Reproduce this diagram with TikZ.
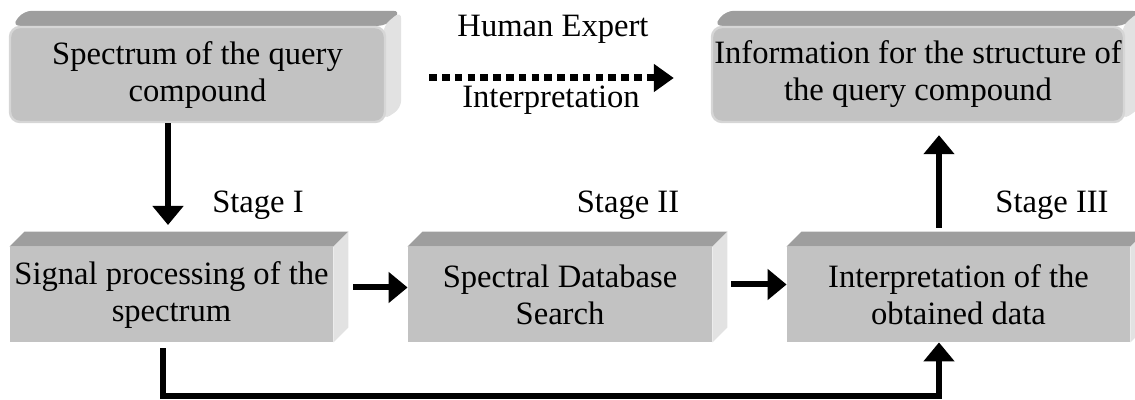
\documentclass[tikz,border=0pt]{standalone}
\usepackage{fontspec}
\setmainfont{Liberation Serif}
\usetikzlibrary{arrows.meta,backgrounds,calc}
\definecolor{frontc}{RGB}{194,194,194}
\definecolor{topc}{RGB}{158,158,158}
\definecolor{sidec}{RGB}{226,226,226}
\definecolor{rimc}{RGB}{214,214,214}
\begin{document}
\begin{tikzpicture}[x=0.5pt,y=-0.5pt,
  every node/.style={font=\fontsize{16.3}{18.5}\selectfont, inner sep=0pt},
  flatbox/.style={fill=frontc, align=center, minimum height=47.5pt},
  roundbox/.style={flatbox, rounded corners=5pt, draw=rimc, line width=1.2pt},
  topface/.style={fill=topc},
  sideface/.style={fill=sidec},
  arr/.style={line width=3pt, -{Triangle[width=15pt,length=9.5pt]}},
  dotarr/.style={line width=3.5pt, dash pattern=on 3.8pt off 2.6pt, -{Triangle[width=13.5pt,length=10pt]}},
  lbl/.style={anchor=base}
]
\useasboundingbox (0,0) rectangle (1135,400);
\clip (0,0) rectangle (1135,400);

% boxes (front faces)
\node[roundbox, minimum width=187.5pt] (tl) at (197.5,74.5) {Spectrum of the query\\compound};
\node[roundbox, minimum width=206pt] (tr) at (918,74.5) {Information for the structure of\\the query compound};
\node[flatbox, minimum width=161.5pt] (b1) at (171.5,294.5) {Signal processing of the\\spectrum};
\node[flatbox, minimum width=152pt] (b2) at (560,294.5) {Spectral Database\\Search};
\node[flatbox, minimum width=171.5pt] (b3) at (958.5,294.5) {Interpretation of the\\obtained data};

% 3D faces
\begin{pgfonlayer}{background}
  \foreach \b in {tl,tr} {
    \fill[topface, rounded corners=4pt] ([shift={(3,0)}]\b.north west) -- ([shift={(15,-15)}]\b.north west)
      -- ([shift={(15,-15)}]\b.north east) -- ([shift={(0,0)}]\b.north east) -- cycle;
    \fill[sideface, rounded corners=4pt] ([shift={(-3,0)}]\b.north east) -- ([shift={(15,-15)}]\b.north east)
      -- ([shift={(15,-15)}]\b.south east) -- ([shift={(-3,-3)}]\b.south east) -- cycle;
  }
  \foreach \b in {b1,b2,b3} {
    \fill[topface] (\b.north west) -- ([shift={(15,-15)}]\b.north west)
      -- ([shift={(15,-15)}]\b.north east) -- (\b.north east) -- cycle;
    \fill[sideface] (\b.north east) -- ([shift={(15,-15)}]\b.north east)
      -- ([shift={(15,-15)}]\b.south east) -- (\b.south east) -- cycle;
  }
\end{pgfonlayer}

% labels
\node[lbl] (he) at (553,37) {Human Expert};
\node[lbl] (hi) at (551,108) {Interpretation};
\node[lbl] (s1) at (258,213) {Stage I};
\node[lbl] (s2) at (628,213) {Stage II};
\node[lbl] (s3) at (1052,213) {Stage III};

% helper coordinates
\coordinate (dx) at (168,225);
\coordinate (ux) at (939,0);
\coordinate (vx) at (163,0);
\coordinate (hy) at (0,396);

% connectors
\draw[dotarr] ([shift={(43,3.5)}]tl.east) -- ([shift={(-37,3.5)}]tr.west);
\draw[arr] (tl.south -| dx) -- (dx);
\draw[arr] ([shift={(20,-7)}]b1.east) -- ([shift={(0,-7)}]b2.west);
\draw[arr] ([shift={(19,-10)}]b2.east) -- ([shift={(0,-10)}]b3.west);
\draw[arr] ([yshift=9.5pt]b3.north -| ux) -- ([yshift=-6pt]tr.south -| ux);
\draw[arr] ([yshift=-3pt]b1.south -| vx) -- (vx |- hy) -- (ux |- hy) -- (b3.south -| ux);
\end{tikzpicture}
\end{document}
